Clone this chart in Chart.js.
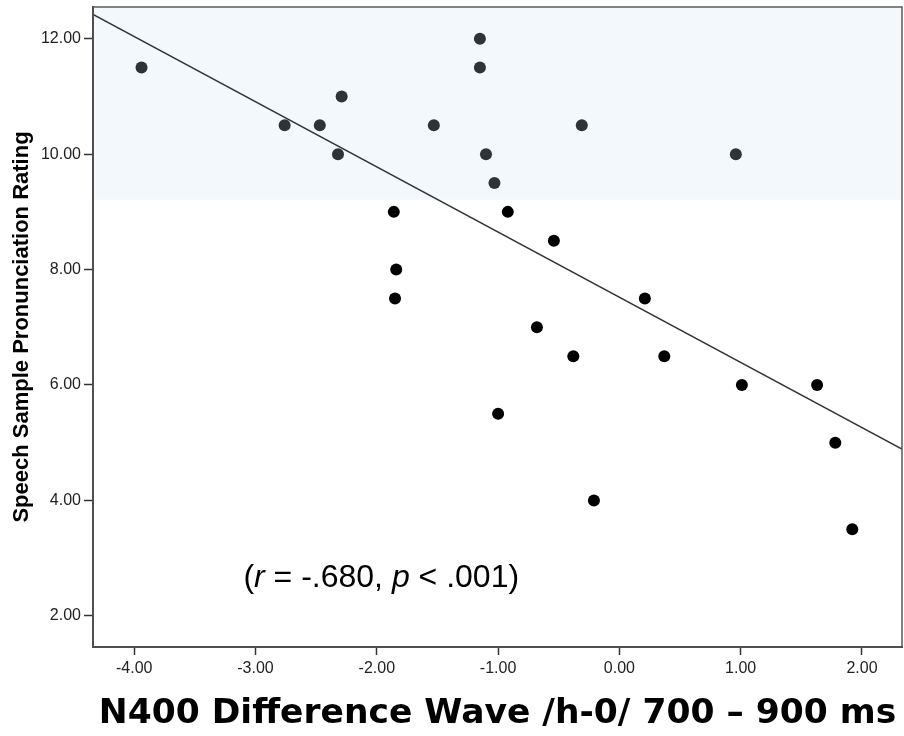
<!DOCTYPE html>
<html>
<head>
<meta charset="utf-8">
<script src="https://cdn.jsdelivr.net/npm/chart.js@4.4.0/dist/chart.umd.min.js"></script>
<style>
html,body{margin:0;padding:0;background:#fff}
</style>
</head>
<body>
<canvas id="myChart" width="904" height="736"></canvas>
<script>
// N400 difference (x) vs pronunciation rating (y)
var xValues = [-3.94,-2.76,-2.47,-2.29,-2.32,-1.86,-1.84,-1.85,-1.53,-1.15,-1.15,-1.10,-1.03,-0.92,-0.54,-0.31,-0.68,-0.38,0.37,0.21,0.96,-1.00,-0.21,1.01,1.63,1.78,1.92]
var yValues = [11.5,10.5,10.5,11.0,10.0,9.0,8.0,7.5,10.5,12.0,11.5,10.0,9.5,9.0,8.5,10.5,7.0,6.5,6.5,7.5,10.0,5.5,4.0,6.0,6.0,5.0,3.5]

// fit line end points
var fitX = [-4.34, 2.33]
var fitY = [12.42, 4.89]

var xTicks = [-4,-3,-2,-1,0,1,2]
var yTicks = [2,4,6,8,10,12]
var bandFrom = 9.21

var points = []
for(var i=0;i<xValues.length;i++){
    points.push({x:xValues[i], y:yValues[i]})
}
var fitLine = []
for(var j=0;j<fitX.length;j++){
    fitLine.push({x:fitX[j], y:fitY[j]})
}

var bandPlugin = {
    id: "band",
    beforeDraw: function(chart){
        var ctx = chart.ctx
        var a = chart.chartArea
        var yb = chart.scales.y.getPixelForValue(bandFrom)
        ctx.save()
        ctx.fillStyle = "#f3f8fd"
        ctx.fillRect(a.left, a.top, a.right-a.left, yb-a.top)
        ctx.restore()
    },
    afterDraw: function(chart){
        var ctx = chart.ctx
        var a = chart.chartArea
        ctx.save()
        ctx.strokeStyle = "#5a5a5a"
        ctx.lineWidth = 1.5
        ctx.strokeRect(a.left, a.top, a.right-a.left, a.bottom-a.top)

        // r / p note
        var x = chart.scales.x.getPixelForValue(-3.10)
        var y = chart.scales.y.getPixelForValue(2.50)
        var parts = [["(",""],["r","italic "],[" = -.680, ",""],["p","italic "],[" < .001)",""]]
        ctx.fillStyle = "#000"
        ctx.textBaseline = "alphabetic"
        for(var k=0;k<parts.length;k++){
            ctx.font = parts[k][1] + "32px 'Liberation Sans'"
            ctx.fillText(parts[k][0], x, y)
            x += ctx.measureText(parts[k][0]).width
        }
        ctx.restore()
    }
}

var myChart = new Chart("myChart",{
    type: "scatter",
    data: {
        datasets: [{
            data: points,
            backgroundColor: function(c){ return (c.raw && c.raw.y > bandFrom) ? "#2e3336" : "#000" },
            borderWidth: 0,
            pointRadius: 6
        },{
            type: "line",
            data: fitLine,
            borderColor: "#333",
            borderWidth: 1.5,
            pointRadius: 0,
            fill: false
        }]
    },
    options: {
        responsive: false,
        animation: false,
        layout: {autoPadding: false, padding: {top: 7, right: 2, left: 0, bottom: 0}},
        plugins: {legend: {display: false}, tooltip: {enabled: false}},
        scales: {
            x: {
                type: "linear",
                min: -4.34,
                max: 2.33,
                afterFit: function(s){ s.height = 89; s.paddingLeft = 0; s.paddingRight = 0 },
                afterBuildTicks: function(s){ s.ticks = xTicks.map(function(v){ return {value:v} }) },
                border: {color: "#333", width: 2},
                grid: {drawOnChartArea: false, tickLength: 8, color: "#333", tickWidth: 1.5},
                ticks: {
                    font: {family: "'Liberation Sans'", size: 16},
                    color: "#222",
                    padding: 4,
                    maxRotation: 0,
                    callback: function(v){ return Number(v).toFixed(2) }
                },
                title: {
                    display: true,
                    text: "N400 Difference Wave /h-0/ 700 – 900 ms",
                    font: {family: "'DejaVu Sans'", size: 34.5, weight: "bold"},
                    color: "#000",
                    padding: {top: 0, bottom: 1}
                }
            },
            y: {
                type: "linear",
                min: 1.46,
                max: 12.55,
                afterFit: function(s){ s.width = 93; s.paddingTop = 0; s.paddingBottom = 0 },
                afterBuildTicks: function(s){ s.ticks = yTicks.map(function(v){ return {value:v} }) },
                border: {color: "#333", width: 2},
                grid: {drawOnChartArea: false, tickLength: 9, color: "#333", tickWidth: 1.5},
                ticks: {
                    font: {family: "'Liberation Sans'", size: 16},
                    color: "#222",
                    padding: 3,
                    callback: function(v){ return Number(v).toFixed(2) }
                },
                title: {
                    display: true,
                    text: "Speech Sample Pronunciation Rating",
                    font: {family: "'Liberation Sans'", size: 22, weight: "bold"},
                    color: "#000",
                    padding: {top: 9, bottom: 0}
                }
            }
        }
    },
    plugins: [bandPlugin]
})
</script>
</body>
</html>
